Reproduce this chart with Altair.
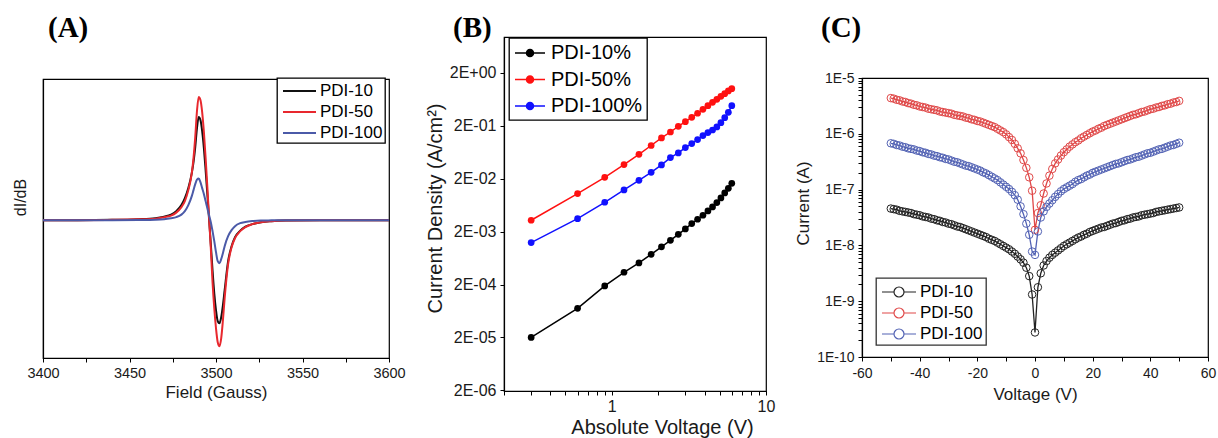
import altair as alt
import pandas as pd

# ---------------- Panel A : EPR spectra ----------------
field_gauss = [3400, 3420, 3440, 3455, 3465, 3470, 3474, 3477, 3480, 3482,
               3484, 3486, 3487, 3488, 3489, 3490, 3491, 3492, 3493, 3494,
               3495, 3496, 3497, 3498, 3499, 3500, 3501, 3502, 3503, 3504,
               3505, 3507, 3509, 3511, 3514, 3517, 3521, 3526, 3532, 3540,
               3560, 3580, 3600]
epr_pdi10 = [0, 0, 0.3, 1, 2, 3.5, 5.5, 9, 15, 22,
             32, 47, 58, 73, 92, 103, 100, 89, 72, 50,
             26, 1, -24, -50, -73, -90, -101, -103, -97, -85,
             -70, -41, -26, -17, -10.5, -6.5, -4, -2, -1, -0.4,
             0, 0, 0]
epr_pdi50 = [0, 0, 0.3, 0.8, 1.5, 3, 4.5, 7.5, 13, 19,
             30, 47, 62, 83, 109, 123, 120, 108, 88, 62,
             33, 2, -28, -62, -88, -108, -122, -126, -118, -100,
             -78, -44, -27, -18, -11, -7, -4, -2, -1, -0.4,
             0, 0, 0]
epr_pdi100 = [0, 0, 0, 0.2, 0.5, 1, 2, 3, 5.5, 9,
              15, 24, 30, 36, 40.5, 41.5, 38, 32, 26, 19,
              12, 5, -2, -11, -21, -32, -41, -43, -39, -33,
              -26, -16, -10, -6, -3, -1.8, -0.9, -0.4, -0.2, 0,
              0, 0, 0]
series_a = ["PDI-10", "PDI-50", "PDI-100"]
colors_a = ["#111111", "#e8282e", "#4b5aa8"]

# ---------------- Panel B : J-V (log-log) ----------------
abs_voltage = [0.3, 0.6, 0.9, 1.2, 1.5, 1.8, 2.1, 2.4, 2.7, 3.0,
               3.3, 3.6, 3.9, 4.2, 4.5, 4.8, 5.1, 5.4, 5.7, 6.0]
jd_pdi10 = [2.0e-5, 7.1e-5, 1.88e-4, 3.41e-4, 5.12e-4, 7.46e-4, 1.03e-3, 1.37e-3, 1.78e-3, 2.25e-3,
            2.84e-3, 3.43e-3, 4.08e-3, 4.92e-3, 5.86e-3, 7.08e-3, 8.67e-3, 1.08e-2, 1.32e-2, 1.64e-2]
jd_pdi50 = [3.28e-3, 1.05e-2, 2.13e-2, 3.7e-2, 5.8e-2, 8.5e-2, 0.118, 0.153, 0.196, 0.240,
            0.290, 0.346, 0.411, 0.482, 0.558, 0.636, 0.724, 0.813, 0.914, 1.01]
jd_pdi100 = [1.24e-3, 3.52e-3, 7.18e-3, 1.23e-2, 1.87e-2, 2.65e-2, 3.65e-2, 5.02e-2, 6.15e-2, 7.76e-2,
             9.23e-2, 0.110, 0.131, 0.149, 0.167, 0.191, 0.230, 0.286, 0.361, 0.482]
series_b = ["PDI-10%", "PDI-50%", "PDI-100%"]
colors_b = ["#000000", "#ff1111", "#1111ff"]

# ---------------- Panel C : I-V (semi-log), log10 of current ----------------
voltage_c = list(range(-50, 51))
log10_i_pdi10 = [
    -7.34, -7.35, -7.36, -7.38, -7.39, -7.40, -7.41, -7.42, -7.44, -7.45,
    -7.46, -7.48, -7.49, -7.50, -7.52, -7.53, -7.55, -7.56, -7.58, -7.59,
    -7.61, -7.62, -7.64, -7.66, -7.67, -7.69, -7.71, -7.73, -7.75, -7.77,
    -7.79, -7.81, -7.83, -7.85, -7.88, -7.90, -7.92, -7.95, -7.98, -8.01,
    -8.04, -8.07, -8.11, -8.15, -8.20, -8.25, -8.31, -8.40, -8.55, -8.88,
    -9.56,
    -8.75, -8.50, -8.36, -8.28, -8.22, -8.17, -8.13, -8.09, -8.05, -8.01,
    -7.98, -7.95, -7.92, -7.89, -7.86, -7.84, -7.81, -7.79, -7.76, -7.74,
    -7.72, -7.70, -7.68, -7.67, -7.65, -7.63, -7.61, -7.60, -7.58, -7.56,
    -7.55, -7.53, -7.52, -7.50, -7.49, -7.48, -7.46, -7.45, -7.44, -7.43,
    -7.42, -7.40, -7.39, -7.38, -7.37, -7.36, -7.35, -7.34, -7.33, -7.32]
log10_i_pdi50 = [
    -5.36, -5.37, -5.39, -5.40, -5.42, -5.43, -5.45, -5.46, -5.48, -5.49,
    -5.51, -5.52, -5.53, -5.55, -5.56, -5.57, -5.58, -5.60, -5.61, -5.62,
    -5.63, -5.64, -5.66, -5.67, -5.68, -5.69, -5.71, -5.72, -5.74, -5.75,
    -5.77, -5.78, -5.80, -5.82, -5.84, -5.86, -5.88, -5.91, -5.94, -5.97,
    -6.01, -6.06, -6.11, -6.18, -6.26, -6.35, -6.47, -6.61, -6.78, -7.02,
    -7.72,
    -7.42, -7.28, -7.07, -6.89, -6.75, -6.63, -6.53, -6.46, -6.39, -6.33,
    -6.28, -6.23, -6.19, -6.15, -6.12, -6.08, -6.05, -6.02, -5.99, -5.96,
    -5.94, -5.91, -5.89, -5.86, -5.84, -5.82, -5.80, -5.78, -5.76, -5.74,
    -5.72, -5.70, -5.68, -5.66, -5.65, -5.63, -5.61, -5.60, -5.58, -5.56,
    -5.55, -5.53, -5.52, -5.50, -5.49, -5.47, -5.46, -5.44, -5.43, -5.41]
log10_i_pdi100 = [
    -6.17, -6.18, -6.20, -6.21, -6.23, -6.24, -6.26, -6.27, -6.28, -6.30,
    -6.31, -6.33, -6.34, -6.36, -6.37, -6.39, -6.40, -6.42, -6.43, -6.45,
    -6.46, -6.48, -6.50, -6.51, -6.53, -6.55, -6.57, -6.58, -6.60, -6.62,
    -6.64, -6.66, -6.69, -6.71, -6.74, -6.77, -6.80, -6.83, -6.87, -6.91,
    -6.95, -6.99, -7.04, -7.10, -7.18, -7.30, -7.44, -7.61, -7.81, -8.11,
    -8.17,
    -7.75, -7.50, -7.39, -7.31, -7.25, -7.19, -7.13, -7.08, -7.03, -6.99,
    -6.96, -6.93, -6.90, -6.86, -6.83, -6.81, -6.78, -6.75, -6.73, -6.70,
    -6.68, -6.66, -6.64, -6.62, -6.60, -6.58, -6.56, -6.54, -6.53, -6.51,
    -6.49, -6.47, -6.46, -6.44, -6.42, -6.41, -6.39, -6.37, -6.35, -6.34,
    -6.32, -6.30, -6.28, -6.27, -6.25, -6.23, -6.21, -6.20, -6.18, -6.16]
series_c = ["PDI-10", "PDI-50", "PDI-100"]
colors_c = ["#222222", "#e04848", "#5262b4"]

# tick positions
ticks_a = list(range(3400, 3601, 25))
ticks_bx = [0.2, 0.3, 0.4, 0.5, 0.6, 0.7, 0.8, 0.9, 1, 2, 3, 4, 5, 6, 7, 8, 9, 10]
ticks_by = [2e-6, 2e-5, 2e-4, 2e-3, 2e-2, 2e-1, 2]
ticks_cx = list(range(-60, 61, 10))
ticks_cy = [k * 10.0 ** e for e in range(-10, -5) for k in range(1, 10)] + [1e-5]

SANS = "Liberation Sans"
SERIF = "Liberation Serif"
FRAME = alt.ViewBackground(stroke="black", strokeWidth=1.2)
LABEL_OFFSET = -6

# legend glyphs (unit path, scaled by the symbol size)
GLYPH_A = "M-0.7,0H2.6"
GLYPH_B = ("M-0.9,0H2.1 "
           "M0.95,0A0.35,0.35 0 1,1 0.25,0A0.35,0.35 0 1,1 0.95,0 "
           "M0.85,0A0.25,0.25 0 1,1 0.35,0A0.25,0.25 0 1,1 0.85,0 "
           "M0.75,0A0.15,0.15 0 1,1 0.45,0A0.15,0.15 0 1,1 0.75,0 "
           "M0.65,0A0.05,0.05 0 1,1 0.55,0A0.05,0.05 0 1,1 0.65,0")
GLYPH_C = "M-0.8,0H0.4 M1.4,0H2.6 M0.4,0A0.5,0.5 0 1,1 1.4,0A0.5,0.5 0 1,1 0.4,0"


def axis(**kw):
    base = dict(labelFont=SANS, titleFont=SANS, labelColor="#1a1a1a", titleColor="#1a1a1a",
                titleFontWeight="normal", domainColor="black", domainWidth=1.2,
                tickColor="black", tickWidth=1, grid=False, labelOverlap=False, labelFlush=False)
    base.update(kw)
    return alt.Axis(**base)


def panel_label(txt, dx):
    return alt.TitleParams(text=txt, font=SERIF, fontSize=29, fontWeight="bold", color="black",
                           anchor="start", frame="group", dx=dx, offset=LABEL_OFFSET)


def label_row(txt, dx, h):
    # invisible spacer row carrying the panel letter; its height sets the panel's top edge
    return alt.Chart(pd.DataFrame({"z": [0]})).mark_point(size=0, opacity=0).encode(
        x=alt.value(0), y=alt.value(0)
    ).properties(width=1, height=h, view=alt.ViewBackground(stroke="transparent"),
                 title=panel_label(txt, dx))


def legend(x, y, pad, glyph, sw, fs, offset, rowpad, box="black"):
    return alt.Legend(title=None, orient="none", legendX=x, legendY=y, padding=pad,
                      strokeColor=box, fillColor="white",
                      symbolType=glyph, symbolSize=400, symbolStrokeWidth=sw,
                      labelFont=SANS, labelFontSize=fs, labelColor="black",
                      labelOffset=offset, rowPadding=rowpad)


# ---- Panel A
nA = len(field_gauss)
dfA = pd.DataFrame({
    "field": field_gauss * 3,
    "signal": epr_pdi10 + epr_pdi50 + epr_pdi100,
    "sampleA": [series_a[0]] * nA + [series_a[1]] * nA + [series_a[2]] * nA,
})
chartA = alt.Chart(dfA).mark_line(strokeWidth=2, interpolate="monotone").encode(
    x=alt.X("field:Q", scale=alt.Scale(domain=[3400, 3600], nice=False),
            axis=axis(values=ticks_a, format="d", labelExpr="datum.value % 50 == 0 ? datum.label : ''",
                      labelFontSize=14.5, titleFontSize=17, tickSize=4, labelPadding=4, titlePadding=5,
                      title="Field (Gauss)")),
    y=alt.Y("signal:Q", scale=alt.Scale(domain=[-137.7, 141], nice=False, zero=False),
            axis=axis(labels=False, ticks=False, title="dI/dB", titleFontSize=16, titlePadding=15,
                      titleY=118)),
    color=alt.Color("sampleA:N", scale=alt.Scale(domain=series_a, range=colors_a),
                    legend=legend(234, 41, 2, GLYPH_A, 2, 17, 19, 2)),
).properties(width=346, height=279, view=FRAME)

# ---- Panel B
nB = len(abs_voltage)
dfB = pd.DataFrame({
    "volt": abs_voltage * 3,
    "density": jd_pdi10 + jd_pdi50 + jd_pdi100,
    "sampleB": [series_b[0]] * nB + [series_b[1]] * nB + [series_b[2]] * nB,
})
chartB = alt.Chart(dfB).mark_line(
    strokeWidth=1.5, point=alt.OverlayMarkDef(filled=True, size=45, opacity=1, shape="circle")
).encode(
    x=alt.X("volt:Q", scale=alt.Scale(type="log", domain=[0.2, 10], nice=False),
            axis=axis(values=ticks_bx, labelExpr="datum.value == 1 ? '1' : (datum.value == 10 ? '10' : '')",
                      labelFontSize=16, titleFontSize=20, tickSize=4, labelPadding=3, titlePadding=3,
                      title="Absolute Voltage (V)", titleX=158)),
    y=alt.Y("density:Q", scale=alt.Scale(type="log", domain=[1.94e-6, 9.57], nice=False),
            axis=axis(values=ticks_by,
                      labelExpr="'2E' + (round(log(datum.value/2)/LN10) < 0 ? '-' : '+') + '0' + abs(round(log(datum.value/2)/LN10))",
                      labelFontSize=16, titleFontSize=20, tickSize=4, labelPadding=4, titlePadding=4,
                      title="Current Density (A/cm²)", titleY=171)),
    color=alt.Color("sampleB:N", scale=alt.Scale(domain=series_b, range=colors_b),
                    legend=legend(5, 1, 4, GLYPH_B, 1.5, 20, 16, 5.5)),
).properties(width=262, height=354, view=FRAME, title=panel_label("(B)", -51))

# ---- Panel C
nC = len(voltage_c)
dfC = pd.DataFrame({
    "volt": voltage_c * 3,
    "logi": log10_i_pdi10 + log10_i_pdi50 + log10_i_pdi100,
    "sampleC": [series_c[0]] * nC + [series_c[1]] * nC + [series_c[2]] * nC,
})
dfC["current"] = 10.0 ** dfC["logi"]
chartC = alt.Chart(dfC).mark_line(
    strokeWidth=1.3,
    point=alt.OverlayMarkDef(filled=False, fill="transparent", size=57, strokeWidth=1, opacity=1, shape="circle")
).encode(
    x=alt.X("volt:Q", scale=alt.Scale(domain=[-60, 60], nice=False),
            axis=axis(values=ticks_cx, labelExpr="datum.value % 20 == 0 ? '' + datum.value : ''",
                      labelFontSize=14, titleFontSize=17, tickSize=4, labelPadding=5, titlePadding=6,
                      title="Voltage (V)")),
    y=alt.Y("current:Q", scale=alt.Scale(type="log", domain=[1e-10, 1e-5], nice=False),
            axis=axis(values=ticks_cy,
                      labelExpr="abs(log(datum.value)/LN10 - round(log(datum.value)/LN10)) < 0.001 ? '1E' + round(log(datum.value)/LN10) : ''",
                      labelFontSize=14, titleFontSize=17, tickSize=4, labelPadding=4, titlePadding=4,
                      title="Current (A)", titleY=125)),
    color=alt.Color("sampleC:N", scale=alt.Scale(domain=series_c, range=colors_c),
                    legend=legend(14, 241, 3, GLYPH_C, 1.2, 17, 19, 2, box="#333333")),
).properties(width=346, height=279, view=FRAME)

colA = alt.vconcat(label_row("(A)", 5, 40), chartA, spacing=0)
colC = alt.vconcat(label_row("(C)", -41, 32), chartC, spacing=0)

chart = alt.hconcat(colA, chartB, colC, spacing=18).resolve_scale(
    color="independent", x="independent", y="independent"
).properties(
    padding={"left": 11, "top": 13, "right": 0, "bottom": 0}, background="white"
).configure_legend(strokeWidth=1.3)

chart.save("out.html", embed_options={"renderer": "svg", "actions": False})
